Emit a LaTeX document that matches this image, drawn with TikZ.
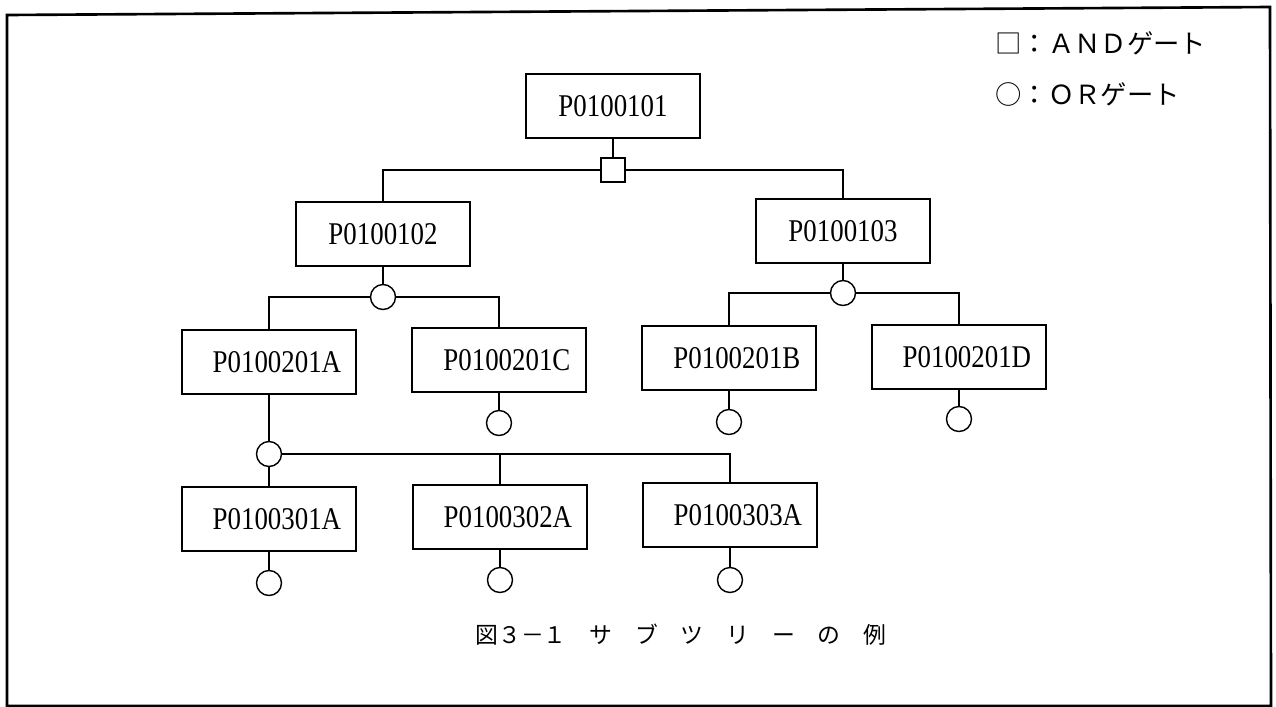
\documentclass[tikz,border=0pt]{standalone}
\usepackage{fontspec}
\setmainfont{Liberation Serif}
\newfontfamily\lblfont[FakeStretch=0.85]{Liberation Serif}
\newfontfamily\cjk{Noto Sans CJK JP}
\begin{document}
\begin{tikzpicture}[x=0.02cm,y=-0.02cm,
  evbox/.style={draw,line width=0.8pt,minimum width=3.48cm,minimum height=1.28cm,inner sep=0pt,
    font=\lblfont\fontsize{18}{18}\selectfont},
  orgate/.style={draw,circle,line width=0.8pt,minimum size=0.5cm,inner sep=0pt},
  andgate/.style={draw,rectangle,line width=0.8pt,minimum size=0.48cm,inner sep=0pt},
  conn/.style={line width=0.8pt},
  frameline/.style={line width=1.5pt},
  legtext/.style={anchor=west,inner sep=0pt,font=\cjk\fontsize{15}{15}\selectfont},
  captext/.style={anchor=west,inner sep=0pt,font=\cjk\fontsize{13}{13}\selectfont}]
\useasboundingbox (0,0) rectangle (1276,707);
% frame
\draw[frameline] (7,15) -- (1270,7) -- (1271,706) -- (7,706) -- cycle;
% legend
\node[legtext] (legand) at (995,43) {□：ＡＮＤゲート};
\node[legtext] (legor) at (995,94) {○：ＯＲゲート};
% level 1
\node[evbox] (n101) at (613,106) {P0100101};
\node[andgate] (and1) at (613,170) {};
% level 2
\node[evbox] (n102) at (383,234) {P0100102};
\node[evbox] (n103) at (843,231) {P0100103};
\node[orgate] (or102) at (383,297) {};
\node[orgate] (or103) at (843,293) {};
% level 3
\node[evbox] (n201A) at (269,362) {\hspace*{9pt}P0100201A};
\node[evbox] (n201C) at (499,360) {\hspace*{9pt}P0100201C};
\node[evbox] (n201B) at (729,358) {\hspace*{9pt}P0100201B};
\node[evbox] (n201D) at (959,357) {\hspace*{9pt}P0100201D};
\node[orgate] (orC) at (499,423) {};
\node[orgate] (orB) at (729,422) {};
\node[orgate] (orD) at (959,419) {};
\node[orgate] (orA) at (269,454) {};
% level 4
\node[evbox] (n301A) at (269,519) {\hspace*{9pt}P0100301A};
\node[evbox] (n302A) at (500,517) {\hspace*{9pt}P0100302A};
\node[evbox] (n303A) at (730,515) {\hspace*{9pt}P0100303A};
\node[orgate] (or301) at (269,583) {};
\node[orgate] (or302) at (500,580) {};
\node[orgate] (or303) at (730,580) {};
% caption
\node[captext] (cap) at (475,635) {図３－１　サ　ブ　ツ　リ　ー　の　例};
% connectors
\draw[conn] (n101.south) -- (and1.north);
\draw[conn] (and1.west) -| (n102.north);
\draw[conn] (and1.east) -| (n103.north);
\draw[conn] (n102.south) -- (or102.north);
\draw[conn] (n103.south) -- (or103.north);
\draw[conn] (or102.west) -| (n201A.north);
\draw[conn] (or102.east) -| (n201C.north);
\draw[conn] (or103.west) -| (n201B.north);
\draw[conn] (or103.east) -| (n201D.north);
\draw[conn] (n201C.south) -- (orC.north);
\draw[conn] (n201B.south) -- (orB.north);
\draw[conn] (n201D.south) -- (orD.north);
\draw[conn] (n201A.south) -- (orA.north);
\draw[conn] (orA.south) -- (n301A.north);
\draw[conn] (orA.east) -| (n303A.north);
\draw[conn] (n302A.north) -- (n302A.north |- orA.east);
\draw[conn] (n301A.south) -- (or301.north);
\draw[conn] (n302A.south) -- (or302.north);
\draw[conn] (n303A.south) -- (or303.north);
\end{tikzpicture}
\end{document}
